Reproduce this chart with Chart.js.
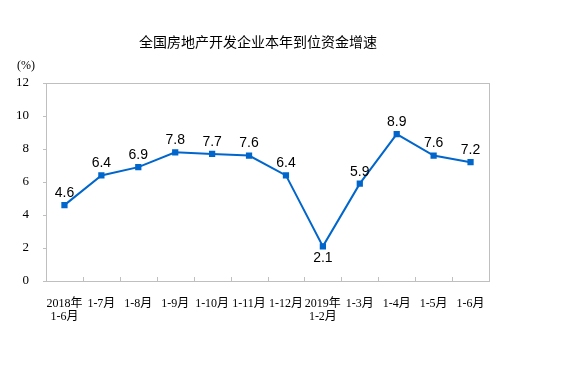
<!DOCTYPE html>
<html>
<head>
<meta charset="utf-8">
<script src="https://cdn.jsdelivr.net/npm/chart.js@4"></script>
<style>
html,body{margin:0;padding:0;background:#fff;}
</style>
</head>
<body>
<canvas id="fundChart" width="580" height="371"></canvas>
<script>
const labels=[["2018年","1-6月"],"1-7月","1-8月","1-9月","1-10月","1-11月","1-12月",["2019年","1-2月"],"1-3月","1-4月","1-5月","1-6月"];
const growth=[4.6,6.4,6.9,7.8,7.7,7.6,6.4,2.1,5.9,8.9,7.6,7.2];
const yTicks=[0,2,4,6,8,10,12];
const title="全国房地产开发企业本年到位资金增速";
const unit="(%)";

const lineColor="#0066cc";
const serif="'Liberation Serif','Noto Sans CJK SC'";

// box round plot, inward x ticks, value labels, title
const decor={
  id:"decor",
  afterDraw(c){
    const ctx=c.ctx, a=c.chartArea;
    ctx.save();
    ctx.strokeStyle="#bfbfbf";
    ctx.lineWidth=1;
    ctx.strokeRect(a.left+0.5,a.top+0.5,a.right-a.left,a.bottom-a.top);
    const step=(a.right-a.left)/labels.length;
    ctx.beginPath();
    for(let i=1;i<labels.length;i++){
      const px=Math.round(a.left+step*i)+0.5;
      ctx.moveTo(px,a.bottom);ctx.lineTo(px,a.bottom-4);
    }
    ctx.stroke();

    ctx.fillStyle="#000";
    ctx.font="14px 'Noto Sans CJK SC'";
    ctx.textAlign="center";ctx.textBaseline="middle";
    ctx.fillText(title,258,42);
    ctx.font="12px "+serif;
    ctx.fillText(unit,26,66);

    ctx.font="14px 'Liberation Sans'";
    const meta=c.getDatasetMeta(0);
    meta.data.forEach((p,i)=>{
      const below=i===7;
      ctx.fillText(growth[i].toFixed(1),p.x,below?p.y+12:p.y-12);
    });
    ctx.restore();
  }
};

new Chart(document.getElementById("fundChart"),{
  type:"line",
  data:{labels:labels,datasets:[{
    data:growth,borderColor:lineColor,backgroundColor:lineColor,
    borderWidth:2,tension:0,pointStyle:"rect",pointRadius:3,pointHoverRadius:3
  }]},
  options:{
    responsive:false,animation:false,
    layout:{padding:{top:83,right:91,left:0,bottom:0}},
    plugins:{legend:{display:false},tooltip:{enabled:false}},
    scales:{
      x:{
        offset:true,
        grid:{display:false},
        border:{display:false},
        ticks:{color:"#000",font:{family:serif,size:12,lineHeight:1.1},maxRotation:0,autoSkip:false,padding:8},
        afterFit(s){s.height=90;}
      },
      y:{
        min:0,max:12,
        afterBuildTicks(s){s.ticks=yTicks.map(v=>({value:v}));},
        grid:{drawOnChartArea:false,tickLength:3,color:"#bfbfbf"},
        border:{display:false},
        ticks:{color:"#000",font:{family:serif,size:13},padding:14},
        afterFit(s){s.width=46;}
      }
    }
  },
  plugins:[decor]
});
</script>
</body>
</html>
